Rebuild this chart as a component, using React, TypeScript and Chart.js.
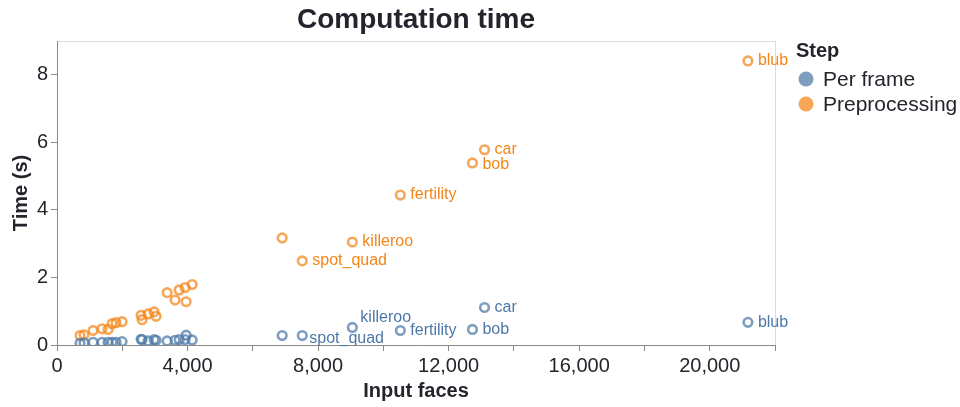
import React, { useEffect, useRef } from 'react';
import { Chart, registerables } from 'chart.js';

Chart.register(...registerables);

// ---- data ----
const meshNames = [
  '', '', '', '', '', '', '', '', '', '', '', '', '', '', '', '', '', '', '',
  '', 'spot_quad', 'killeroo', 'fertility', 'bob', 'car', 'blub',
];
const inputFaces = [
  706, 828, 1104, 1380, 1564, 1687, 1810, 1994, 2577, 2607, 2791, 2975, 3037,
  3374, 3620, 3742, 3926, 3957, 4141, 6900, 7515, 9050, 10520, 12730, 13100, 21170,
];
const preprocessing = [
  0.28, 0.3, 0.43, 0.48, 0.46, 0.63, 0.66, 0.69, 0.88, 0.75, 0.92, 0.98, 0.85,
  1.55, 1.33, 1.63, 1.7, 1.28, 1.79, 3.17, 2.49, 3.05, 4.44, 5.39, 5.78, 8.41,
];
const perFrame = [
  0.05, 0.06, 0.08, 0.08, 0.08, 0.08, 0.08, 0.1, 0.17, 0.16, 0.12, 0.16, 0.14,
  0.12, 0.14, 0.16, 0.16, 0.29, 0.15, 0.28, 0.28, 0.52, 0.43, 0.46, 1.11, 0.67,
];
const stepNames = ['Per frame', 'Preprocessing'];
const xTicks = [0, 2000, 4000, 6000, 8000, 10000, 12000, 14000, 16000, 18000, 20000, 22000];
const xLabelStep = 4000;
const yTicks = [0, 2, 4, 6, 8];

// ---- styles ----
const BLUE = '#4c78a8';
const ORANGE = '#f58518';
const BLUE_A = 'rgba(76,120,168,0.72)';
const ORANGE_A = 'rgba(245,133,24,0.72)';
const FONT = "'Liberation Sans', Arial, Helvetica, sans-serif";
const TEXT = '#24242c';
const AXIS = '#888888';

// label offsets per series (style only)
const labelOffsets: Record<string, Record<string, [number, number]>> = {
  'Per frame': { killeroo: [8, -10], spot_quad: [7, 3] },
  Preprocessing: { bob: [10, 2] },
};

const overlayPlugin = {
  id: 'overlay',
  beforeDraw(chart: any) {
    const { ctx, chartArea } = chart;
    ctx.save();
    ctx.fillStyle = '#ffffff';
    ctx.fillRect(0, 0, chart.width, chart.height);
    ctx.strokeStyle = '#dddddd';
    ctx.lineWidth = 1;
    ctx.strokeRect(chartArea.left + 0.5, chartArea.top + 0.5, chartArea.right - chartArea.left, chartArea.bottom - chartArea.top);
    ctx.restore();
  },
  afterDraw(chart: any) {
    const { ctx, chartArea } = chart;
    ctx.save();
    // title
    ctx.fillStyle = TEXT;
    ctx.font = `bold 28px ${FONT}`;
    ctx.textAlign = 'center';
    ctx.textBaseline = 'middle';
    ctx.fillText('Computation time', (chartArea.left + chartArea.right) / 2, 20);

    // point labels
    ctx.font = `16px ${FONT}`;
    ctx.textAlign = 'left';
    chart.data.datasets.forEach((ds: any, di: number) => {
      const meta = chart.getDatasetMeta(di);
      ctx.fillStyle = di === 0 ? BLUE : ORANGE;
      meta.data.forEach((el: any, i: number) => {
        const name = meshNames[i];
        if (!name) return;
        const off = (labelOffsets[ds.label] && labelOffsets[ds.label][name]) || [10, 0];
        ctx.fillText(name, el.x + off[0], el.y + off[1]);
      });
    });

    // legend
    const lx = chartArea.right + 21;
    ctx.fillStyle = TEXT;
    ctx.font = `bold 20px ${FONT}`;
    ctx.textBaseline = 'middle';
    ctx.fillText('Step', lx, 51);
    ctx.font = `21px ${FONT}`;
    stepNames.forEach((n, i) => {
      const y = 79 + i * 25;
      ctx.beginPath();
      ctx.arc(lx + 10, y, 7.5, 0, Math.PI * 2);
      ctx.fillStyle = i === 0 ? BLUE_A : ORANGE_A;
      ctx.fill();
      ctx.fillStyle = TEXT;
      ctx.fillText(n, lx + 27, y + 1);
    });
    ctx.restore();
  },
};

export default function App() {
  const ref = useRef<HTMLCanvasElement | null>(null);
  useEffect(() => {
    document.body.style.margin = '0';
    if (!ref.current) return;
    const chart = new Chart(ref.current, {
      type: 'scatter',
      data: {
        datasets: [
          {
            label: stepNames[0],
            data: inputFaces.map((x, i) => ({ x, y: perFrame[i] })),
            borderColor: BLUE_A,
            backgroundColor: 'rgba(0,0,0,0)',
            pointRadius: 4.3,
            pointBorderWidth: 2.6,
          },
          {
            label: stepNames[1],
            data: inputFaces.map((x, i) => ({ x, y: preprocessing[i] })),
            borderColor: ORANGE_A,
            backgroundColor: 'rgba(0,0,0,0)',
            pointRadius: 4.3,
            pointBorderWidth: 2.6,
          },
        ],
      },
      options: {
        animation: false,
        responsive: false,
        maintainAspectRatio: false,
        layout: { padding: { top: 41, right: 185, bottom: 0, left: 0 } },
        plugins: { legend: { display: false }, tooltip: { enabled: false }, title: { display: false } },
        scales: {
          x: {
            type: 'linear',
            min: 0,
            max: 22000,
            afterBuildTicks: (axis: any) => {
              axis.ticks = xTicks.map((v) => ({ value: v }));
            },
            afterFit: (scale: any) => {
              scale.height = 62;
            },
            ticks: {
              autoSkip: false,
              maxRotation: 0,
              padding: 3,
              color: TEXT,
              font: { family: FONT, size: 20 },
              callback: (v: any) => (Number(v) % xLabelStep === 0 ? Number(v).toLocaleString('en-US') : ''),
            },
            grid: { drawOnChartArea: false, drawTicks: true, tickLength: 6, color: AXIS },
            border: { display: true, color: AXIS, width: 1 },
            title: {
              display: true,
              text: 'Input faces',
              color: TEXT,
              font: { family: FONT, size: 20, weight: 'bold' },
              padding: { top: 0, bottom: 4 },
            },
          },
          y: {
            type: 'linear',
            min: 0,
            max: 9,
            afterBuildTicks: (axis: any) => {
              axis.ticks = yTicks.map((v) => ({ value: v }));
            },
            afterFit: (scale: any) => {
              scale.width = 57;
            },
            ticks: {
              padding: 3,
              color: TEXT,
              font: { family: FONT, size: 20 },
            },
            grid: { drawOnChartArea: false, drawTicks: true, tickLength: 6, color: AXIS },
            border: { display: true, color: AXIS, width: 1 },
            title: {
              display: true,
              text: 'Time (s)',
              color: TEXT,
              font: { family: FONT, size: 20, weight: 'bold' },
              padding: { top: 9, bottom: 0 },
            },
          },
        },
      },
      plugins: [overlayPlugin],
    } as any);
    return () => chart.destroy();
  }, []);
  return (
    <div style={{ position: 'absolute', left: 0, top: 0, width: 960, height: 407 }}>
      <canvas ref={ref} width={960} height={407} style={{ width: 960, height: 407, display: 'block' }} />
    </div>
  );
}
